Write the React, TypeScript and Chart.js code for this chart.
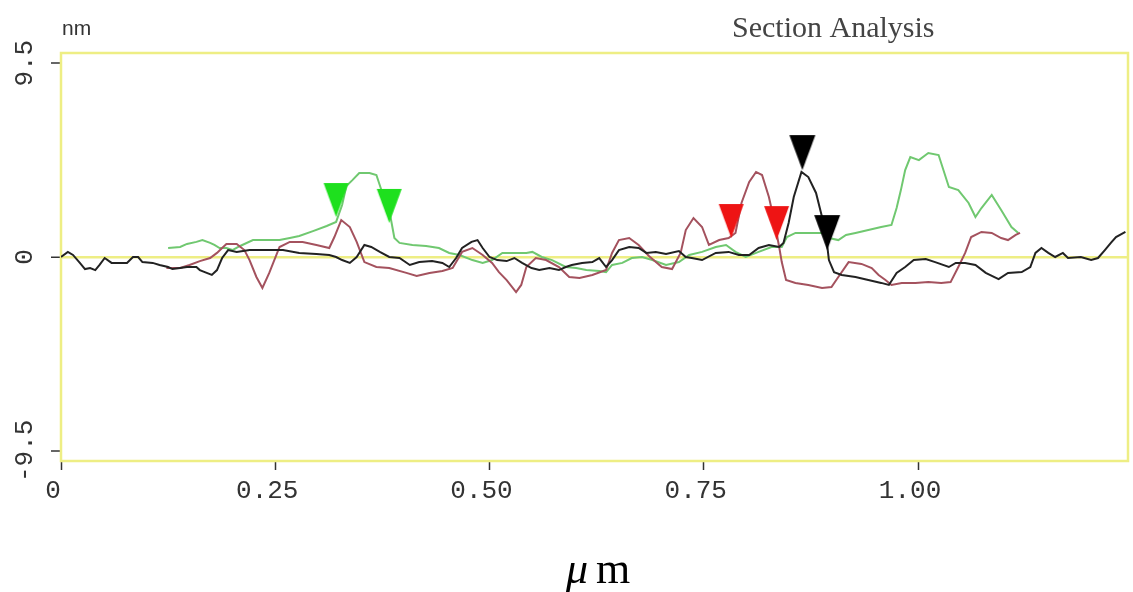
import React, { useEffect, useRef } from 'react';
import { Chart, registerables } from 'chart.js';

Chart.register(...registerables);

// ---- axes ----
const X_MIN = 0;
const X_MAX = 1.245;
const Y_MIN = -10;
const Y_MAX = 10;
const X_TICKS = [0, 0.25, 0.5, 0.75, 1.0];
const X_TICK_LABELS = ['0', '0.25', '0.50', '0.75', '1.00'];
const Y_TICKS = [-9.5, 0, 9.5];
const Y_TICK_LABELS = ['-9.5', '0', '9.5'];

const TITLE = 'Section Analysis';
const Y_UNIT = 'nm';
const X_UNIT_GREEK = 'μ';
const X_UNIT_LATIN = 'm';

// ---- black profile (μm, nm) ----
const BLACK_X = [
  0.000, 0.008, 0.014, 0.022, 0.028, 0.034, 0.040, 0.045, 0.051, 0.059,
  0.069, 0.077, 0.084, 0.090, 0.095, 0.107, 0.115, 0.125, 0.130, 0.139,
  0.147, 0.158, 0.162, 0.170, 0.176, 0.182, 0.188, 0.195, 0.205, 0.220,
  0.240, 0.259, 0.278, 0.298, 0.313, 0.321, 0.328, 0.337, 0.345, 0.354,
  0.362, 0.372, 0.383, 0.395, 0.407, 0.418, 0.433, 0.445, 0.453, 0.461,
  0.468, 0.479, 0.486, 0.492, 0.500, 0.509, 0.520, 0.529, 0.538, 0.549,
  0.558, 0.570, 0.581, 0.589, 0.596, 0.608, 0.620, 0.628, 0.636, 0.643,
  0.651, 0.663, 0.674, 0.683, 0.694, 0.706, 0.721, 0.729, 0.736, 0.748,
  0.764, 0.779, 0.791, 0.803, 0.814, 0.826, 0.838, 0.843, 0.849, 0.855,
  0.864, 0.872, 0.881, 0.888, 0.892, 0.896, 0.902, 0.911, 0.927, 0.942,
  0.957, 0.966, 0.975, 0.985, 0.995, 1.009, 1.020, 1.036, 1.044, 1.055,
  1.067, 1.079, 1.094, 1.105, 1.121, 1.131, 1.137, 1.144, 1.152, 1.160,
  1.169, 1.175, 1.190, 1.202, 1.210, 1.218, 1.225, 1.231, 1.242,
];
const BLACK_Y = [
  0.00, 0.25, 0.10, -0.29, -0.59, -0.54, -0.64, -0.39, -0.05, -0.29,
  -0.29, -0.29, 0.00, 0.00, -0.25, -0.29, -0.39, -0.49, -0.59, -0.54,
  -0.49, -0.49, -0.64, -0.78, -0.88, -0.64, -0.05, 0.34, 0.25, 0.34,
  0.34, 0.34, 0.20, 0.15, 0.10, 0.00, -0.15, -0.29, 0.00, 0.59,
  0.49, 0.25, 0.00, -0.05, -0.39, -0.25, -0.20, -0.29, -0.49, -0.05,
  0.44, 0.74, 0.83, 0.44, 0.00, -0.15, -0.20, -0.05, -0.29, -0.54,
  -0.64, -0.54, -0.64, -0.49, -0.39, -0.29, -0.25, -0.05, -0.49, -0.15,
  0.34, 0.49, 0.44, 0.20, 0.25, 0.15, 0.29, 0.00, -0.05, -0.15,
  0.20, 0.25, 0.10, 0.10, 0.44, 0.59, 0.49, 0.69, 1.67, 2.94,
  4.17, 3.92, 3.14, 1.96, 1.32, -0.15, -0.74, -0.88, -0.98, -1.13,
  -1.27, -1.37, -0.78, -0.49, -0.15, -0.10, -0.25, -0.49, -0.29, -0.29,
  -0.39, -0.78, -1.08, -0.78, -0.74, -0.49, 0.20, 0.44, 0.20, 0.00,
  0.20, -0.05, 0.00, -0.15, -0.05, 0.34, 0.69, 0.98, 1.23,
];

// ---- green profile ----
const GREEN_X = [
  0.125, 0.139, 0.147, 0.158, 0.165, 0.174, 0.179, 0.185, 0.193, 0.200,
  0.209, 0.224, 0.243, 0.255, 0.267, 0.278, 0.294, 0.310, 0.321, 0.328,
  0.333, 0.340, 0.348, 0.360, 0.368, 0.375, 0.383, 0.389, 0.395, 0.410,
  0.426, 0.441, 0.453, 0.465, 0.480, 0.492, 0.503, 0.515, 0.531, 0.543,
  0.550, 0.561, 0.573, 0.589, 0.601, 0.613, 0.628, 0.636, 0.643, 0.655,
  0.666, 0.678, 0.690, 0.706, 0.721, 0.733, 0.748, 0.764, 0.776, 0.787,
  0.799, 0.814, 0.829, 0.841, 0.847, 0.857, 0.872, 0.888, 0.896, 0.907,
  0.916, 0.927, 0.942, 0.957, 0.969, 0.975, 0.980, 0.985, 0.991, 1.001,
  1.012, 1.024, 1.036, 1.047, 1.059, 1.067, 1.074, 1.086, 1.097, 1.109,
  1.117,
];
const GREEN_Y = [
  0.44, 0.49, 0.64, 0.74, 0.83, 0.69, 0.59, 0.44, 0.44, 0.34,
  0.54, 0.83, 0.83, 0.83, 0.93, 1.03, 1.27, 1.52, 1.72, 2.55,
  3.48, 3.77, 4.12, 4.12, 4.02, 3.14, 2.30, 0.93, 0.69, 0.59,
  0.54, 0.44, 0.20, 0.10, -0.15, -0.29, -0.15, 0.20, 0.20, 0.20,
  0.25, 0.00, -0.15, -0.49, -0.54, -0.64, -0.69, -0.74, -0.39, -0.29,
  -0.05, 0.00, -0.15, -0.39, -0.25, 0.10, 0.25, 0.49, 0.59, 0.25,
  0.00, 0.25, 0.49, 0.49, 0.98, 1.18, 1.18, 1.18, 0.93, 0.83,
  1.08, 1.18, 1.32, 1.47, 1.57, 2.40, 3.28, 4.26, 4.90, 4.75,
  5.10, 5.00, 3.43, 3.28, 2.65, 1.96, 2.40, 3.04, 2.30, 1.47,
  1.18,
];

// ---- maroon profile ----
const RED_X = [
  0.123, 0.139, 0.150, 0.162, 0.174, 0.182, 0.188, 0.193, 0.205, 0.214,
  0.220, 0.228, 0.235, 0.243, 0.255, 0.267, 0.282, 0.298, 0.313, 0.319,
  0.327, 0.337, 0.345, 0.354, 0.368, 0.383, 0.403, 0.415, 0.430, 0.445,
  0.457, 0.468, 0.480, 0.492, 0.503, 0.511, 0.520, 0.531, 0.537, 0.543,
  0.554, 0.566, 0.581, 0.593, 0.605, 0.620, 0.636, 0.643, 0.651, 0.663,
  0.674, 0.686, 0.701, 0.713, 0.723, 0.729, 0.738, 0.748, 0.756, 0.768,
  0.779, 0.787, 0.794, 0.803, 0.811, 0.818, 0.826, 0.832, 0.838, 0.841,
  0.846, 0.857, 0.872, 0.888, 0.899, 0.907, 0.919, 0.934, 0.946, 0.954,
  0.962, 0.969, 0.981, 0.997, 1.012, 1.027, 1.038, 1.047, 1.055, 1.062,
  1.074, 1.086, 1.097, 1.105, 1.114, 1.119,
];
const RED_Y = [
  -0.54, -0.54, -0.39, -0.20, -0.05, 0.20, 0.44, 0.64, 0.64, 0.34,
  -0.15, -0.98, -1.52, -0.78, 0.49, 0.74, 0.74, 0.59, 0.44, 0.98,
  1.81, 1.47, 0.74, -0.25, -0.49, -0.54, -0.78, -0.93, -0.78, -0.69,
  -0.54, 0.25, 0.44, 0.10, -0.29, -0.74, -1.13, -1.72, -1.37, -0.49,
  -0.05, -0.15, -0.49, -0.98, -1.03, -0.88, -0.64, 0.20, 0.83, 0.93,
  0.59, 0.05, -0.49, -0.59, 0.20, 1.32, 1.91, 1.47, 0.59, 0.83,
  0.93, 1.18, 2.65, 3.68, 4.17, 4.02, 2.94, 1.81, 0.49, -0.25,
  -1.13, -1.27, -1.37, -1.52, -1.47, -0.98, -0.25, -0.34, -0.54, -0.88,
  -1.13, -1.37, -1.27, -1.27, -1.23, -1.27, -1.23, -0.49, 0.20, 0.98,
  1.23, 1.18, 0.93, 0.83, 1.08, 1.18,
];

// ---- cursor markers (tip position) ----
const GREEN_MARK_X = [0.321, 0.383];
const GREEN_MARK_Y = [1.96, 1.67];
const RED_MARK_X = [0.782, 0.835];
const RED_MARK_Y = [0.93, 0.83];
const BLACK_MARK_X = [0.865, 0.894];
const BLACK_MARK_Y = [4.26, 0.34];

// ---- styles ----
const FRAME_COLOR = '#eeee84';
const BLACK_LINE = '#222222';
const GREEN_LINE = '#70c870';
const RED_LINE = '#a4525e';
const GREEN_MARK = '#1ee01e';
const RED_MARK = '#ee1414';
const BLACK_MARK = '#000000';
const TICK_FONT = { family: '"Liberation Mono", monospace', size: 26 };

function pts(xs: number[], ys: number[]) {
  const n = Math.min(xs.length, ys.length);
  const out: { x: number; y: number }[] = [];
  for (let i = 0; i < n; i++) out.push({ x: xs[i], y: ys[i] });
  return out;
}

function makeTriangle(color: string, w: number, h: number): HTMLCanvasElement {
  const c = document.createElement('canvas');
  c.width = w + 2;
  c.height = 2 * h + 2;
  const g = c.getContext('2d')!;
  g.fillStyle = color;
  g.beginPath();
  g.moveTo(1, 1);
  g.lineTo(w + 1, 1);
  g.lineTo(w / 2 + 1, h + 1);
  g.closePath();
  g.fill();
  return c;
}

const framePlugin = {
  id: 'sectionFrame',
  beforeDatasetsDraw(chart: any) {
    const { ctx, chartArea: a } = chart;
    ctx.save();
    ctx.strokeStyle = FRAME_COLOR;
    ctx.lineWidth = 2.5;
    ctx.strokeRect(a.left, a.top, a.right - a.left, a.bottom - a.top);
    ctx.restore();
  },
  afterDraw(chart: any) {
    const { ctx } = chart;
    ctx.save();
    ctx.textAlign = 'left';
    ctx.textBaseline = 'alphabetic';
    ctx.fillStyle = '#333';
    ctx.font = '21px "Liberation Sans", sans-serif';
    ctx.fillText(Y_UNIT, 62, 35);
    ctx.fillStyle = '#444';
    ctx.font = '30px "Liberation Serif", serif';
    ctx.fillText(TITLE, 732, 37);
    ctx.fillStyle = '#000';
    ctx.font = 'italic 44px "Liberation Serif", serif';
    ctx.fillText(X_UNIT_GREEK, 566, 583);
    const w = ctx.measureText(X_UNIT_GREEK).width;
    ctx.font = '44px "Liberation Serif", serif';
    ctx.fillText(X_UNIT_LATIN, 566 + w + 8, 583);
    ctx.restore();
  },
};

export default function App() {
  const ref = useRef<HTMLCanvasElement | null>(null);

  useEffect(() => {
    if (!ref.current) return;
    const gTri = makeTriangle(GREEN_MARK, 25, 34);
    const rTri = makeTriangle(RED_MARK, 25, 34);
    const bTri = makeTriangle(BLACK_MARK, 26, 35);

    const markerDs = (xs: number[], ys: number[], img: HTMLCanvasElement) => ({
      data: pts(xs, ys),
      showLine: false,
      pointRadius: 5,
      pointHoverRadius: 5,
      pointStyle: img,
      borderWidth: 0,
      clip: false as any,
    });
    const lineDs = (xs: number[], ys: number[], color: string) => ({
      data: pts(xs, ys),
      borderColor: color,
      borderWidth: 2,
      pointRadius: 0,
      tension: 0,
      fill: false,
    });

    const chart = new Chart(ref.current, {
      type: 'line',
      data: {
        datasets: [
          markerDs(BLACK_MARK_X, BLACK_MARK_Y, bTri),
          markerDs(RED_MARK_X, RED_MARK_Y, rTri),
          markerDs(GREEN_MARK_X, GREEN_MARK_Y, gTri),
          lineDs(BLACK_X, BLACK_Y, BLACK_LINE),
          lineDs(RED_X, RED_Y, RED_LINE),
          lineDs(GREEN_X, GREEN_Y, GREEN_LINE),
        ] as any,
      },
      options: {
        animation: false,
        responsive: false,
        devicePixelRatio: 1,
        layout: { padding: { top: 53, right: 4, bottom: 0, left: 0 } },
        plugins: { legend: { display: false }, tooltip: { enabled: false }, title: { display: false } },
        events: [],
        scales: {
          x: {
            type: 'linear',
            min: X_MIN,
            max: X_MAX,
            border: { display: false },
            grid: {
              display: true,
              drawOnChartArea: false,
              drawTicks: true,
              tickLength: 9,
              tickColor: '#333',
              tickWidth: 1.5,
            },
            ticks: {
              autoSkip: false,
              maxRotation: 0,
              minRotation: 0,
              padding: 6,
              labelOffset: -8,
              color: '#333',
              font: TICK_FONT,
              callback: (v: any) => {
                const i = X_TICKS.indexOf(Number(v));
                return i >= 0 ? X_TICK_LABELS[i] : '';
              },
            },
            afterBuildTicks: (s: any) => {
              s.ticks = X_TICKS.map((v) => ({ value: v }));
            },
            afterFit: (s: any) => {
              s.height = 131;
            },
          },
          y: {
            type: 'linear',
            min: Y_MIN,
            max: Y_MAX,
            border: { display: false },
            grid: {
              display: true,
              drawOnChartArea: true,
              drawTicks: true,
              tickLength: 10,
              tickColor: '#333',
              tickWidth: 1.5,
              color: (c: any) => (c.tick && c.tick.value === 0 ? FRAME_COLOR : 'rgba(0,0,0,0)'),
              lineWidth: (c: any) => (c.tick && c.tick.value === 0 ? 2.5 : 0),
            },
            ticks: {
              autoSkip: false,
              minRotation: 90,
              maxRotation: 90,
              crossAlign: 'center',
              padding: -5,
              color: '#333',
              font: TICK_FONT,
              callback: (v: any) => {
                const i = Y_TICKS.indexOf(Number(v));
                return i >= 0 ? Y_TICK_LABELS[i] : '';
              },
            },
            afterBuildTicks: (s: any) => {
              s.ticks = Y_TICKS.map((v) => ({ value: v }));
            },
            afterFit: (s: any) => {
              s.width = 61;
            },
          },
        },
      } as any,
      plugins: [framePlugin],
    });
    return () => chart.destroy();
  }, []);

  return (
    <div style={{ position: 'absolute', left: 0, top: 0, width: 1133, height: 592, background: '#fff' }}>
      <canvas ref={ref} width={1133} height={592} style={{ display: 'block', width: 1133, height: 592 }} />
    </div>
  );
}
